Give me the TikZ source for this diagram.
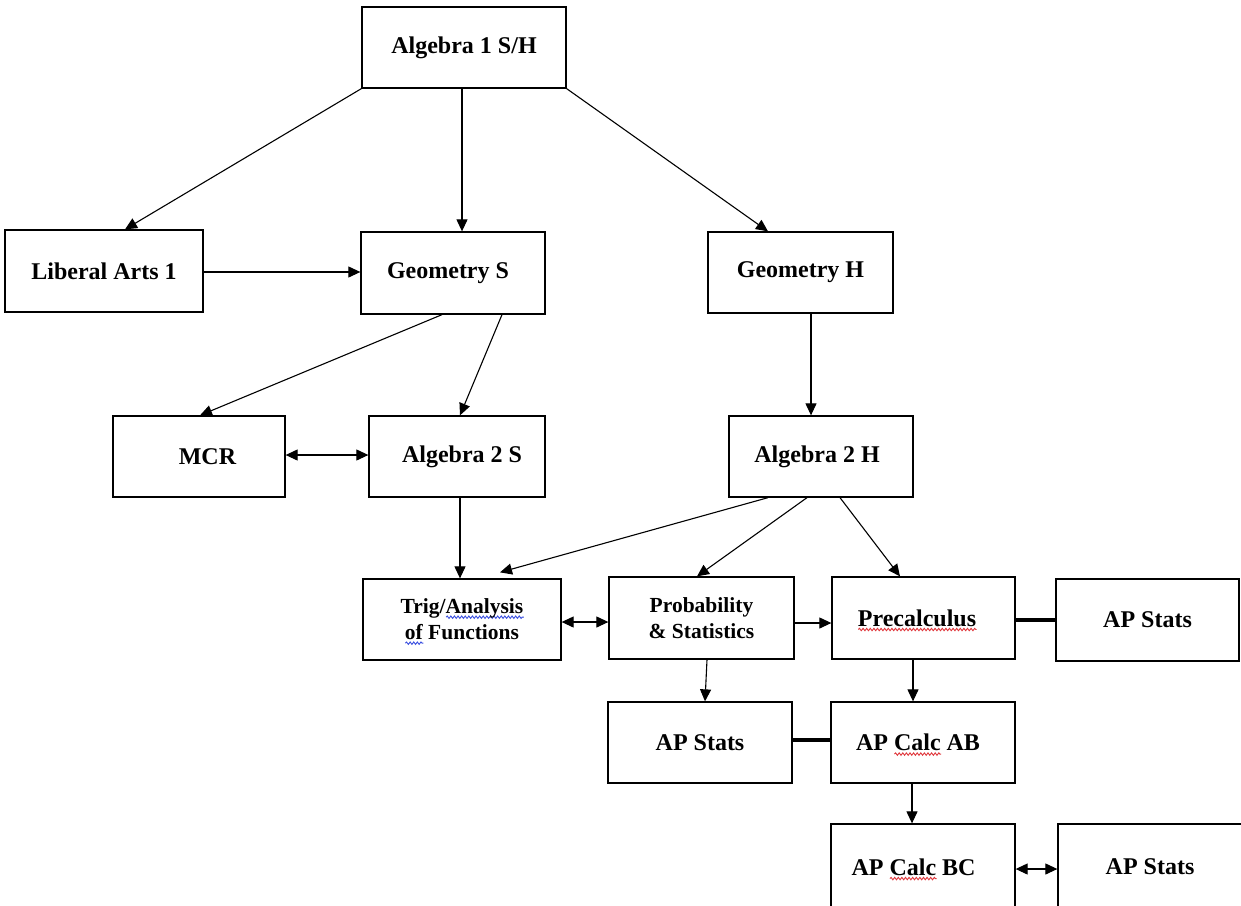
\documentclass[tikz,border=0pt]{standalone}
\usepackage{fontspec}
\setmainfont{Liberation Serif}
\usetikzlibrary{arrows.meta,decorations.pathmorphing}
\definecolor{sqred}{HTML}{E0383D}
\definecolor{sqblue}{HTML}{3A4FE0}
\newlength\sqlen
\newcommand\sq[2]{\settowidth\sqlen{#2}\leavevmode\rlap{\smash{\raisebox{-5pt}{\tikz[x=1pt,y=1pt]\draw[#1,line width=0.9pt,decorate,decoration={snake,amplitude=1.2pt,segment length=3.6pt}] (0,0)--(\sqlen,0);}}}#2}
\tikzset{
  box/.style={draw=black,line width=1.3pt,rectangle,inner sep=0pt,align=center,
    font=\fontsize{24}{28}\selectfont\bfseries},
  smallbox/.style={box,font=\fontsize{21.5}{26}\selectfont\bfseries},
  arr/.style={line width=1.1pt,-{Triangle[length=12pt,width=11pt]}},
  darr/.style={line width=1.1pt,{Triangle[length=12pt,width=11pt]}-{Triangle[length=12pt,width=11pt]}},
  thick link/.style={line width=4.5pt}
}
\begin{document}
\begin{tikzpicture}[x=1pt,y=-1pt]
\fill[white] (0,0) rectangle (1241,905);
\useasboundingbox (0,0) rectangle (1241,905);

\node[box,minimum width=204pt,minimum height=81pt] (a1) at (464,47.5) {Algebra 1 S/H};
\node[box,minimum width=198pt,minimum height=82pt] (la) at (104,271) {Liberal Arts 1};
\node[box,minimum width=184pt,minimum height=82pt] (gs) at (453,273) {Geometry S\hspace*{10pt}};
\node[box,minimum width=185pt,minimum height=81pt] (gh) at (800.5,272.5) {Geometry H};
\node[box,minimum width=172pt,minimum height=81pt] (mcr) at (199,456.5) {\hspace*{17pt}MCR};
\node[box,minimum width=176pt,minimum height=81pt] (a2s) at (457,456.5) {\hspace*{10pt}Algebra 2 S};
\node[box,minimum width=184pt,minimum height=81pt] (a2h) at (821,456.5) {Algebra 2 H\hspace*{8pt}};
\node[smallbox,minimum width=198pt,minimum height=81pt] (trig) at (462,619.5) {Trig/\sq{sqblue}{Analysis}\\\sq{sqblue}{of} Functions};
\node[smallbox,minimum width=185pt,minimum height=82pt] (prob) at (701.5,618) {Probability\\\& Statistics};
\node[box,minimum width=183pt,minimum height=82pt] (pre) at (923.5,618) {\sq{sqred}{Precalculus}\hspace*{13pt}};
\node[box,minimum width=183pt,minimum height=82pt] (aps1) at (1147.5,620) {AP Stats};
\node[box,minimum width=184pt,minimum height=81pt] (aps2) at (700,742.5) {AP Stats};
\node[box,minimum width=184pt,minimum height=81pt] (ab) at (923,742.5) {AP \sq{sqred}{Calc} AB\hspace*{10pt}};
\node[box,minimum width=184pt,minimum height=86pt] (bc) at (923,867) {AP \sq{sqred}{Calc} BC\hspace*{19pt}};
\node[box,minimum width=190pt,minimum height=86pt] (aps3) at (1153,867) {AP Stats\hspace*{6pt}};

\draw[arr] (a1.south west) -- ([xshift=21pt]la.north);
\draw[arr] ([xshift=-2pt]a1.south) -- ([xshift=9pt]gs.north);
\draw[arr] (a1.south east) -- ([xshift=-32.5pt]gh.north);
\draw[arr] ([yshift=-1pt]la.east) -- ([yshift=-1pt]la.east -| gs.west);
\draw[arr] ([xshift=-11pt]gs.south) -- ([xshift=1pt]mcr.north);
\draw[arr] ([xshift=49pt]gs.south) -- ([xshift=3pt]a2s.north);
\draw[arr] ([xshift=10.5pt]gh.south) -- ([xshift=-10pt]a2h.north);
\draw[darr] ([yshift=1.5pt]mcr.east) -- ([yshift=1.5pt]mcr.east -| a2s.west);
\draw[arr] ([xshift=3pt]a2s.south) -- ([xshift=-2pt]trig.north);
\draw[arr] ([xshift=-53pt]a2h.south) -- ([xshift=38pt,yshift=6pt]trig.north);
\draw[arr] ([xshift=-14pt]a2h.south) -- ([xshift=-4.5pt]prob.north);
\draw[arr] ([xshift=19pt]a2h.south) -- ([xshift=-23.5pt]pre.north);
\draw[darr] ([yshift=-2.5pt]trig.east) -- ([yshift=-2.5pt]trig.east -| prob.west);
\draw[arr] ([yshift=-5pt]prob.east) -- ([yshift=-5pt]prob.east -| pre.west);
\draw[thick link] ([yshift=-2pt]pre.east) -- ([yshift=-2pt]pre.east -| aps1.west);
\draw[arr] ([xshift=5.5pt]prob.south) -- ([xshift=5pt]aps2.north);
\draw[arr] ([xshift=-10.5pt]pre.south) -- ([xshift=-10pt]ab.north);
\draw[thick link] ([yshift=2.5pt]aps2.east) -- ([yshift=2.5pt]aps2.east -| ab.west);
\draw[arr] ([xshift=-11pt]ab.south) -- ([xshift=-11pt]bc.north);
\draw[darr] ([yshift=-2pt]bc.east) -- ([yshift=-2pt]bc.east -| aps3.west);
\end{tikzpicture}
\end{document}
